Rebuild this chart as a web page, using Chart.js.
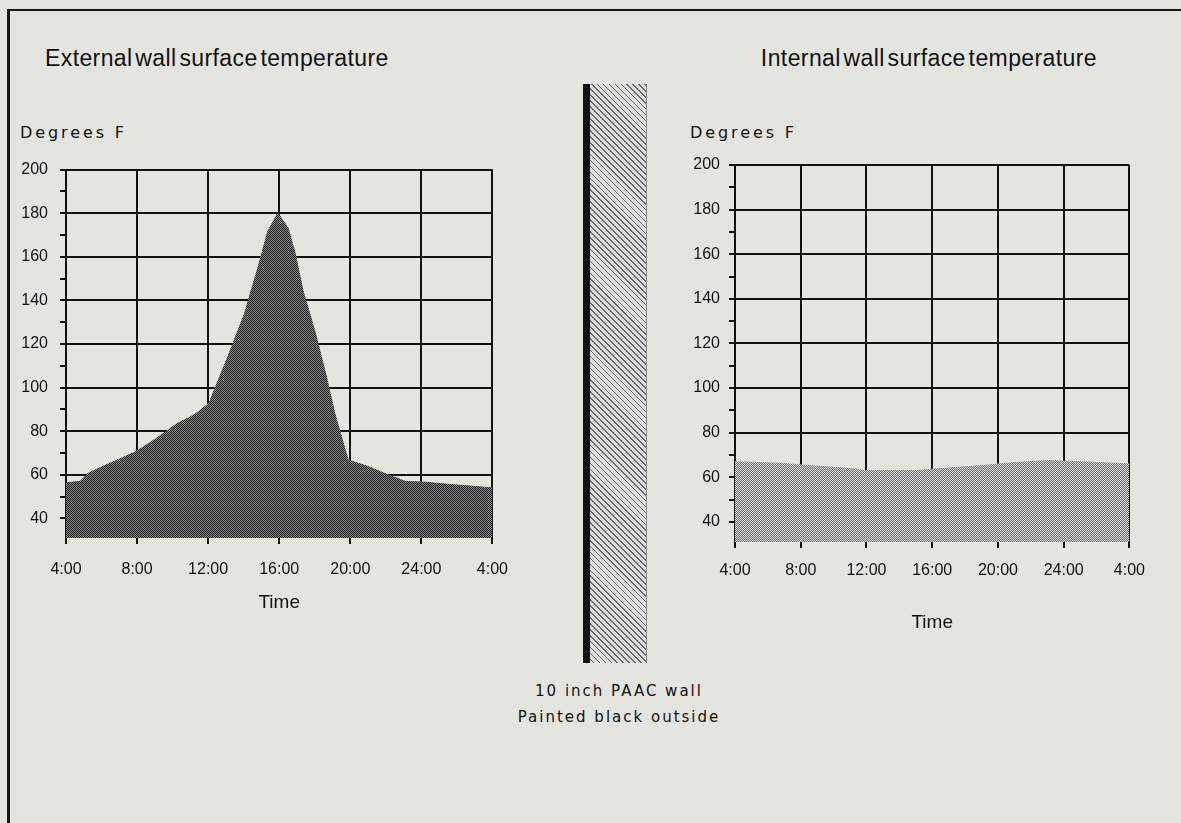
<!DOCTYPE html>
<html>
<head>
<meta charset="utf-8">
<script src="https://cdn.jsdelivr.net/npm/chart.js@4.4.1/dist/chart.umd.min.js"></script>
<style>
  html, body { margin: 0; padding: 0; background: #e4e5df; }
  body { width: 1181px; height: 823px; position: relative; overflow: hidden; font-family: "Liberation Sans", Arial, sans-serif; color: #111; }
  .marco-top { position: absolute; left: 8px; top: 9px; width: 1173px; height: 2px; background: #161616; }
  .marco-left { position: absolute; left: 7px; top: 9px; width: 3px; height: 814px; background: #161616; }
  .txt { position: absolute; white-space: nowrap; line-height: 1; }
  .titulo { font-size: 23px; word-spacing: -4px; letter-spacing: 0.4px; top: 47px; }
  .grados { font-family: "DejaVu Sans", sans-serif; font-size: 16px; letter-spacing: 2.9px; top: 125px; }
  .nota { font-family: "DejaVu Sans", sans-serif; font-size: 15px; letter-spacing: 2px; width: 300px; left: 469px; text-align: center; }
  .muro { position: absolute; left: 583px; top: 84px; width: 64px; height: 579px;
          background: repeating-linear-gradient(45deg, #dededa 0px, #dededa 3px, #6a6a6a 3px, #6a6a6a 4.2px);
          border-right: 1px solid #888; box-sizing: border-box; }
  .muro-negro { position: absolute; left: 583px; top: 84px; width: 7px; height: 579px; background: #111; }
  canvas { position: absolute; }
</style>
</head>
<body>
<div class="marco-top"></div>
<div class="marco-left"></div>

<div class="txt titulo" style="left:45px">External wall surface temperature</div>
<div class="txt titulo" style="right:84px">Internal wall surface temperature</div>
<div class="txt grados" style="left:20px">Degrees F</div>
<div class="txt grados" style="left:690px">Degrees F</div>

<div class="muro"></div>
<div class="muro-negro"></div>
<div class="txt nota" style="top:684px">10 inch PAAC wall</div>
<div class="txt nota" style="top:710px">Painted black outside</div>

<canvas id="externo" width="524" height="470" style="left:0px; top:148px"></canvas>
<canvas id="interno" width="478" height="493" style="left:680px; top:145px"></canvas>

<script>
// Datos (hora del dia, 4:00 -> 4:00 del dia siguiente = 28)
const horasExterno = [4, 4.8, 5.26, 6.5, 7.96, 9.1, 10.27, 11.2, 12.05, 12.34, 13.1, 14.04, 14.8, 15.36, 15.92, 16.49, 16.87, 17.34, 18.0, 18.66, 19.13, 19.88, 21.0, 22.1, 23.09, 24.2, 25.7, 28];
const tempExterno = [56.3, 57.0, 60.8, 65.4, 70.7, 76.8, 83.6, 87.4, 92.7, 98.8, 114.0, 133.8, 155.0, 171.7, 180.1, 173.3, 162.6, 144.4, 126.1, 104.8, 88.1, 66.8, 63.8, 60.1, 57.0, 56.6, 55.5, 54.0];

const horasInterno = [4, 6.75, 8.8, 10.8, 12.0, 14.9, 16.9, 19.4, 21.0, 23.0, 25.1, 28];
const tempInterno = [67.0, 66.3, 65.1, 64.1, 63.0, 63.0, 64.1, 65.5, 66.6, 67.5, 67.0, 66.0];

const xTicks = [4, 8, 12, 16, 20, 24, 28];
const xTickLabels = ["4:00", "8:00", "12:00", "16:00", "20:00", "24:00", "4:00"];
const yTicks = [40, 50, 60, 70, 80, 90, 100, 110, 120, 130, 140, 150, 160, 170, 180, 190, 200];

// Trama de puntos tipo "dither" para el relleno
const crearTrama = (oscuro, claro) => {
    const c = document.createElement("canvas");
    c.width = 2;
    c.height = 2;
    const x = c.getContext("2d");
    x.fillStyle = claro;
    x.fillRect(0, 0, 2, 2);
    x.fillStyle = oscuro;
    x.fillRect(0, 0, 1, 1);
    x.fillRect(1, 1, 1, 1);
    return x.createPattern(c, "repeat");
};

const crearGrafico = (id, horas, temps, trama, anchoY, padY, altoX, padX) => {
    new Chart(document.getElementById(id), {
        type: "scatter",
        data: {
            datasets: [{
                data: horas.map((h, i) => ({ x: h, y: temps[i] })),
                showLine: true,
                fill: "start",
                backgroundColor: trama,
                borderColor: trama,
                borderWidth: 1,
                pointRadius: 0,
                tension: 0,
            }],
        },
        options: {
            responsive: false,
            animation: false,
            layout: { padding: { top: 20, right: 20, bottom: 0, left: 0 } },
            plugins: { legend: { display: false }, tooltip: { enabled: false } },
            scales: {
                x: {
                    type: "linear",
                    min: 4,
                    max: 28,
                    afterBuildTicks: (s) => { s.ticks = xTicks.map((v) => ({ value: v })); },
                    afterFit: (s) => { s.height = altoX; },
                    ticks: {
                        autoSkip: false,
                        maxRotation: 0,
                        callback: (v, i) => xTickLabels[i],
                        font: { family: "Liberation Sans", size: 16 },
                        color: "#111",
                        padding: padX,
                    },
                    grid: { color: "#111", tickColor: "#111", lineWidth: 2, tickLength: 6 },
                    border: { display: false },
                    title: {
                        display: true,
                        text: "Time",
                        font: { family: "Liberation Sans", size: 19 },
                        color: "#111",
                        padding: { top: 0, bottom: 4 },
                    },
                },
                y: {
                    min: 31,
                    max: 200,
                    afterBuildTicks: (s) => { s.ticks = yTicks.map((v) => ({ value: v })); },
                    afterFit: (s) => { s.width = anchoY; },
                    ticks: {
                        autoSkip: false,
                        callback: (v) => (v % 20 === 0 ? v : ""),
                        font: { family: "Liberation Sans", size: 16 },
                        color: "#111",
                        padding: padY,
                    },
                    grid: {
                        // solo las decenas pares llevan linea, las otras solo la marquita
                        color: (c) => (c.tick && c.tick.value % 20 === 0 ? "#111" : "rgba(0,0,0,0)"),
                        tickColor: "#111",
                        lineWidth: 2,
                        tickLength: 6,
                    },
                    border: { display: true, color: "#111", width: 2 },
                },
            },
        },
    });
};

crearGrafico("externo", horasExterno, tempExterno, crearTrama("#1c1c1c", "#8a8a8a"), 66, 12, 80, 16);
crearGrafico("interno", horasInterno, tempInterno, crearTrama("#747474", "#d4d4d2"), 55, 9, 96, 13);
</script>
</body>
</html>
